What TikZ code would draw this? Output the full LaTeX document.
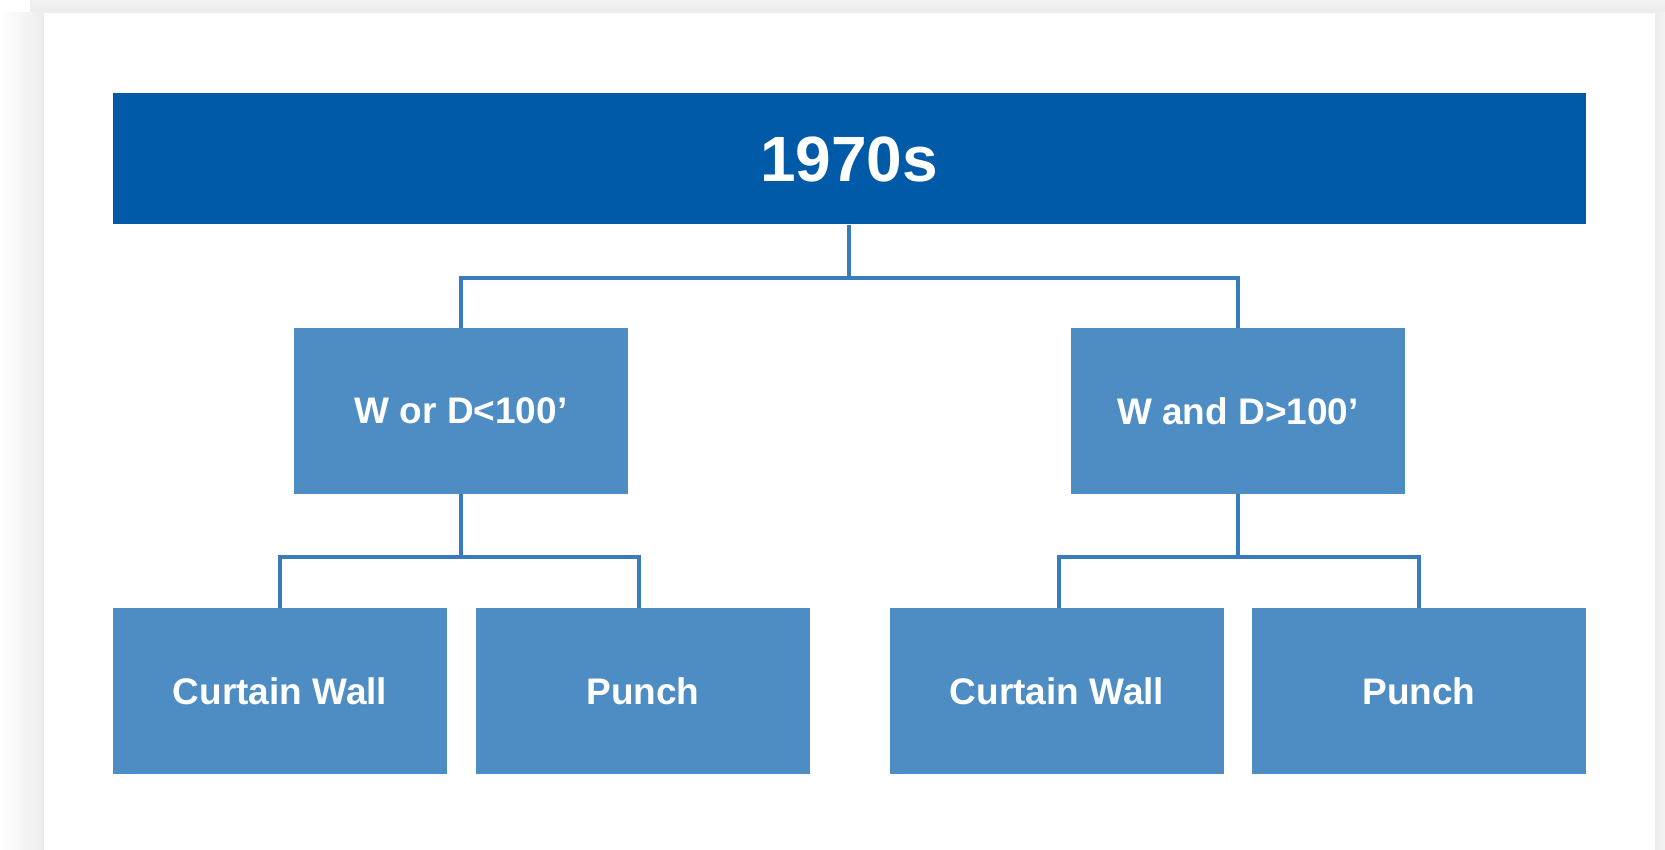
\documentclass[tikz,border=0pt]{standalone}
\usepackage{fontspec}
\setmainfont{Liberation Sans}
\usepackage{xcolor}
\usepackage{tikz}
\usetikzlibrary{positioning,calc}
\definecolor{barblue}{RGB}{0,90,168}
\definecolor{boxblue}{RGB}{78,140,196}
\definecolor{linkblue}{RGB}{56,124,190}
\definecolor{shadow}{RGB}{236,236,236}
\tikzset{
  era/.style={fill=barblue, text=white, inner sep=0pt, minimum width=1473pt,
    minimum height=131pt, font=\bfseries\fontsize{64}{70}\selectfont},
  cat/.style={fill=boxblue, text=white, inner sep=0pt, minimum width=334pt,
    minimum height=166pt, font=\bfseries\fontsize{37}{40}\selectfont},
  link/.style={draw=linkblue, line width=4pt}
}
\begin{document}
\begin{tikzpicture}[x=1pt,y=-1pt]
    \useasboundingbox (0,0) rectangle (1665,850);
    % card with soft shadow
    \fill[white] (0,0) rectangle (1665,850);
    \shade[top color=shadow!70, bottom color=shadow] (30,0) rectangle (1665,13);
    \shade[left color=white, right color=shadow] (0,13) rectangle (44,850);
    \shade[left color=shadow, right color=shadow!60] (1655,13) rectangle (1665,850);
    \fill[white] (44,13) rectangle (1655,850);
    % boxes
    \node[era] (era) at (849,159) {1970s};
    \node[cat] (small) at (461,411) {W or D<100’};
    \node[cat] (large) at (1238,411) {W and D>100’};
    \node[cat] (smallcw) at (280,691) {Curtain Wall};
    \node[cat] (smallp) at (643,691) {Punch};
    \node[cat] (largecw) at (1057,691) {Curtain Wall};
    \node[cat] (largep) at (1419,691) {Punch};
    % tree connectors
    \coordinate (bus0) at (849,278);
    \coordinate (bus1) at (461,557);
    \coordinate (bus2) at (1238,557);
    \draw[link] (era.south) -- (bus0);
    \draw[link] (small.north) |- (bus0) -| (large.north);
    \draw[link] (small.south) -- (bus1);
    \draw[link] (smallcw.north) |- (bus1) -| ([xshift=-4pt]smallp.north);
    \draw[link] (large.south) -- (bus2);
    \draw[link] ([xshift=2pt]largecw.north) |- (bus2) -| (largep.north);
\end{tikzpicture}
\end{document}
